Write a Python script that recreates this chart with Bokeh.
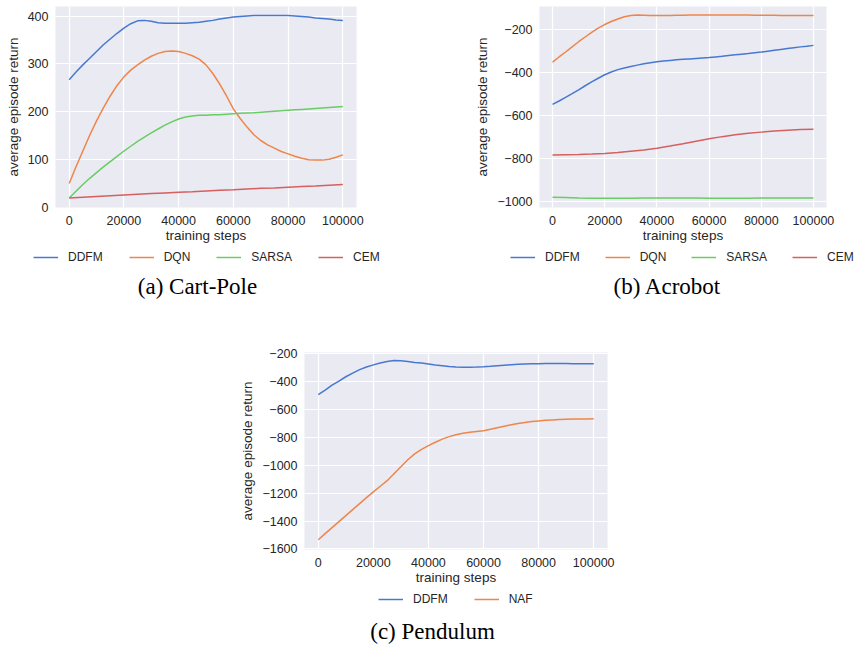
from bokeh.plotting import figure
from bokeh.models import (Range1d, FixedTicker, Legend, LegendItem, Label,
                          CustomJSTickFormatter, Spacer)
from bokeh.layouts import column, row
from bokeh.embed import file_html
from bokeh.resources import INLINE

# ---------------- data ----------------
steps = [0, 2500, 5000, 7500, 10000, 12500, 15000, 17500, 20000, 22500, 25000,
         27500, 30000, 32500, 35000, 37500, 40000, 42500, 45000, 47500, 50000,
         52500, 55000, 57500, 60000, 62500, 65000, 67500, 70000, 72500, 75000,
         77500, 80000, 82500, 85000, 87500, 90000, 92500, 95000, 97500, 100000]
steps_coarse = [0, 5000, 10000, 15000, 20000, 25000, 30000, 35000, 40000, 45000, 50000,
                55000, 60000, 65000, 70000, 75000, 80000, 85000, 90000, 95000, 100000]
x_ticks = [0, 20000, 40000, 60000, 80000, 100000]

# (a) Cart-Pole
cp_ddfm = [267, 283, 298, 312, 326, 340, 352, 364, 375, 384, 390,
           391, 389, 386, 385, 385, 385, 385, 386, 387, 389,
           391, 394, 396, 398, 399, 400, 401, 401, 401, 401,
           401, 401, 400, 399, 398, 396, 395, 394, 392, 391]
cp_dqn = [50, 85, 118, 151, 181, 208, 233, 255, 273, 287, 298,
          308, 316, 322, 326, 327, 326, 322, 317, 310, 298,
          280, 258, 233, 206, 186, 168, 152, 140, 131, 124,
          117, 112, 107, 103, 100, 99, 99, 101, 105, 110]
cp_sarsa = [20, 34, 48, 61, 73, 85, 96, 107, 118, 128, 138,
            147, 156, 164, 172, 179, 185, 189, 191, 193, 193,
            194, 194, 195, 196, 197, 197.5, 198, 199, 200, 201,
            202, 203, 204, 205, 206, 207, 208, 209, 210, 211]
cp_cem = [20, 21.5, 23, 24.5, 26, 27.5, 29, 30.5, 32, 33, 34.5,
          36, 37, 38.5, 40, 41, 42.5, 44, 45, 46.5, 48]
cp_yticks = [0, 100, 200, 300, 400]

# (b) Acrobot
ac_ddfm = [-548, -532, -515, -498, -480, -461, -443, -426, -410, -397, -386,
           -378, -371, -365, -359, -354, -349, -346, -343, -340, -338,
           -336, -334, -332, -330, -327, -324, -320, -317, -314, -311,
           -307, -304, -300, -296, -292, -288, -284, -280, -277, -273]
ac_dqn = [-351, -327, -304, -280, -256, -234, -212, -193, -176, -162, -150,
          -140, -134, -132, -133, -134, -134, -134, -134, -133, -133,
          -132, -132, -131, -131, -131, -131, -131, -132, -132, -132,
          -133, -133, -133, -133, -134, -134, -134, -134, -134, -134]
ac_sarsa = [-980, -982, -984, -985, -985, -985, -985, -984, -984, -984, -984,
            -984, -985, -985, -985, -985, -984, -984, -984, -984, -984]
ac_cem = [-783, -782, -781, -779, -776, -772, -766, -760, -752, -742, -731,
          -719, -708, -698, -689, -682, -677, -672, -668, -665, -664]
ac_yticks = [-1000, -800, -600, -400, -200]

# (c) Pendulum
pe_ddfm = [-493, -460, -424, -395, -364, -338, -313, -294, -279, -265, -254,
           -247, -249, -255, -261, -266, -272, -279, -285, -291, -294,
           -295, -295, -294, -292, -289, -285, -281, -278, -275, -273,
           -271, -270, -269, -269, -269, -269, -270, -270, -271, -271]
pe_naf = [-1534, -1490, -1447, -1404, -1361, -1318, -1275, -1232, -1190, -1150, -1110,
          -1060, -1010, -960, -918, -885, -858, -834, -812, -794, -780,
          -770, -763, -757, -751, -741, -730, -719, -709, -700, -693,
          -686, -681, -677, -674, -671, -669, -668, -667, -667, -666]
pe_yticks = [-1600, -1400, -1200, -1000, -800, -600, -400, -200]

# ---------------- style ----------------
SANS = "Liberation Sans"
SERIF = "Liberation Serif"
TEXT = "#262626"
BLUE, ORANGE, GREEN, RED = "#4878D0", "#EE854A", "#6ACC64", "#D65F5F"


def make_panel(series, yticks, yrange, frame_w, frame_h, bl, br, bt, bb):
    p = figure(width=bl + frame_w + br, height=bt + frame_h + bb,
               x_range=Range1d(-5000, 105000), y_range=Range1d(*yrange),
               output_backend="svg", toolbar_location=None,
               min_border_left=bl, min_border_right=br,
               min_border_top=bt, min_border_bottom=bb)
    p.background_fill_color = "#EAEAF2"
    p.border_fill_color = "white"
    p.outline_line_color = None

    p.xaxis.ticker = FixedTicker(ticks=x_ticks)
    p.yaxis.ticker = FixedTicker(ticks=yticks)
    p.yaxis.formatter = CustomJSTickFormatter(
        code="return (tick < 0 ? '\\u2212' : '') + Math.abs(tick).toFixed(0);")
    p.xaxis.formatter = CustomJSTickFormatter(code="return tick.toFixed(0);")

    for ax in (p.xaxis[0], p.yaxis[0]):
        ax.axis_line_color = None
        ax.major_tick_line_color = None
        ax.minor_tick_line_color = None
        ax.major_tick_out = 0
        ax.major_tick_in = 0
        ax.minor_tick_out = 0
        ax.major_label_text_font = SANS
        ax.major_label_text_font_size = "12.5px"
        ax.major_label_text_color = TEXT
        ax.axis_label_text_font = SANS
        ax.axis_label_text_font_size = "13.5px"
        ax.axis_label_text_font_style = "normal"
        ax.axis_label_text_color = TEXT
    p.xaxis.axis_label = "training steps"
    p.yaxis.axis_label = "average episode return"
    p.xaxis.major_label_standoff = 8
    p.xaxis.axis_label_standoff = 0
    p.yaxis.major_label_standoff = 7
    p.yaxis.axis_label_standoff = 4

    p.xgrid.grid_line_color = "white"
    p.ygrid.grid_line_color = "white"
    p.xgrid.grid_line_width = 1.2
    p.ygrid.grid_line_width = 1.2

    for name, xs, ys, col in series:
        p.line(xs, ys, line_color=col, line_width=1.5)
    return p


def blank_fig(width, height, bl=0, br=0):
    # the series are drawn again here, far outside the visible y range,
    # only so that the legend has renderers to take its samples from
    f = figure(width=width, height=height,
               x_range=Range1d(-5000, 105000), y_range=Range1d(5000, 5001),
               output_backend="svg", toolbar_location=None,
               min_border_left=bl, min_border_right=br,
               min_border_top=0, min_border_bottom=0,
               x_axis_location=None, y_axis_location=None)
    f.xgrid.visible = False
    f.ygrid.visible = False
    f.outline_line_color = None
    f.background_fill_color = "white"
    f.border_fill_color = "white"
    return f


def add_legend(f, series, leg_x, leg_y, spacing, caption, cap_x, cap_y):
    items = []
    for name, xs, ys, col in series:
        r = f.line(xs, ys, line_color=col, line_width=1.5)
        items.append(LegendItem(label=name, renderers=[r]))
    leg = Legend(items=items, orientation="horizontal", location=(leg_x, leg_y),
                 glyph_width=25, glyph_height=16, label_height=16,
                 label_standoff=10, spacing=spacing,
                 margin=0, padding=0, border_line_color=None,
                 background_fill_alpha=0,
                 label_text_font=SANS, label_text_font_size="12px",
                 label_text_color=TEXT)
    f.add_layout(leg, "center")
    f.add_layout(Label(x=cap_x, y=cap_y, x_units="screen", y_units="screen",
                       text=caption, text_align="center", text_baseline="middle",
                       text_font=SERIF, text_font_size="23px",
                       text_font_style="normal", text_color="black"))


ser_a = [("DDFM", steps, cp_ddfm, BLUE), ("DQN", steps, cp_dqn, ORANGE),
         ("SARSA", steps, cp_sarsa, GREEN), ("CEM", steps_coarse, cp_cem, RED)]
ser_b = [("DDFM", steps, ac_ddfm, BLUE), ("DQN", steps, ac_dqn, ORANGE),
         ("SARSA", steps_coarse, ac_sarsa, GREEN), ("CEM", steps_coarse, ac_cem, RED)]
ser_c = [("DDFM", steps, pe_ddfm, BLUE), ("NAF", steps, pe_naf, ORANGE)]

pa = make_panel(ser_a, cp_yticks, (0, 420), 301, 202, 55, 72, 5, 38)
pb = make_panel(ser_b, ac_yticks, (-1028, -92), 287, 201, 111, 26, 6, 38)

# legends + captions of the top row, one full-width strip
l1 = blank_fig(854, 67)
add_legend(l1, ser_a, 33, 47, 26, "(a) Cart-Pole", 197, 26)
add_legend(l1, ser_b, 510, 47, 25, "(b) Acrobot", 667, 26)

pc = make_panel(ser_c, pe_yticks, (-1604, -190), 303, 198, 96, 40, 40, 37)
# frame of this strip lines up with the frame of pc (x 304..607)
lc = blank_fig(439, 58, 96, 40)
add_legend(lc, ser_c, 74, 38, 26, "(c) Pendulum", 128, 14)

layout = column(row(pa, pb), l1,
                row(Spacer(width=208, height=10), column(pc, lc)))

open("out.html", "w").write(file_html(layout, INLINE))
